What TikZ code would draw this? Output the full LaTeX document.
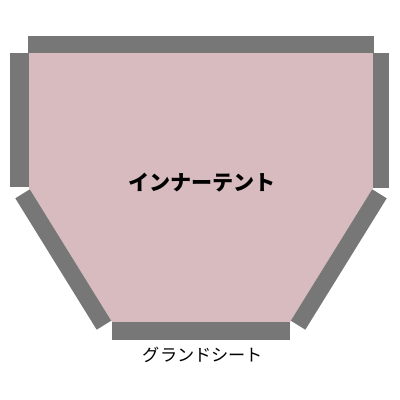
\documentclass[tikz,border=0pt]{standalone}
\usepackage{fontspec}
\newfontfamily\jpfont{Noto Sans CJK JP}
\usetikzlibrary{positioning}

\definecolor{tentpink}{RGB}{216,187,190}
\definecolor{sheetgray}{RGB}{119,119,119}

\begin{document}
\begin{tikzpicture}[x=0.025cm, y=-0.025cm]
\useasboundingbox (0,0) rectangle (400,400);

% inner tent
\fill[tentpink] (29,53) -- (373,53) -- (373,188) -- (290,322) -- (112,322) -- (29,188) -- cycle;

% ground sheet
\fill[sheetgray] (28,36) rectangle (374,53);
\fill[sheetgray] (10,53) rectangle (29,187);
\fill[sheetgray] (373,53) rectangle (389,188);
\fill[sheetgray] (112,322) rectangle (290,340);
\fill[sheetgray] (29.8,189.3) -- (111.2,320.7) -- (96.7,329.7) -- (15.3,198.3) -- cycle;
\fill[sheetgray] (372.2,189.3) -- (290.8,320.7) -- (305.3,329.7) -- (386.7,198.3) -- cycle;

\node (tent) at (202,183) {\jpfont\bfseries\fontsize{15pt}{15pt}\selectfont インナーテント};
\node (sheet) at (203,355) {\jpfont\fontsize{12.2pt}{12pt}\selectfont グランドシート};

\end{tikzpicture}
\end{document}
